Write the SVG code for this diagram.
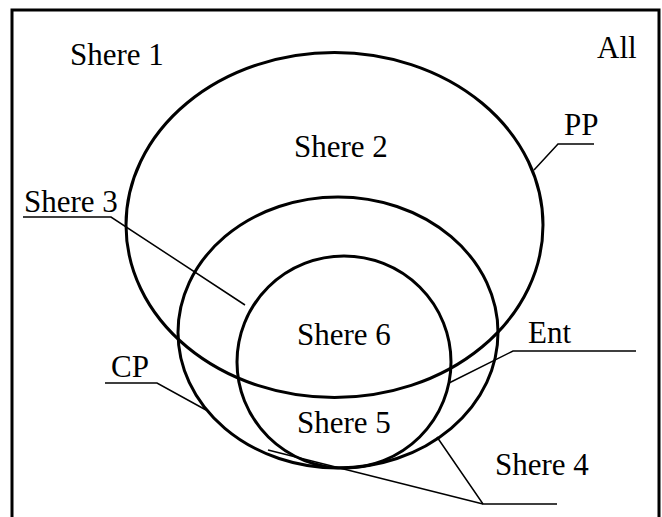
<svg xmlns="http://www.w3.org/2000/svg" width="662" height="517" viewBox="0 0 662 517">
<style>
.sh{fill:none;stroke:#000;stroke-width:3}
.ld{fill:none;stroke:#000;stroke-width:1.5}
.t{font-family:'Liberation Serif','Times New Roman',serif;font-size:31px;fill:#000}
</style>
<rect width="662" height="517" fill="#fff"/>
<path id="frame" class="sh" d="M12,517 V10 H659 V517"/>
<g id="pp"><ellipse class="sh" cx="334.5" cy="225" rx="208.5" ry="172.5"/></g>
<g id="cp"><ellipse class="sh" cx="338" cy="332.5" rx="160" ry="135.5"/></g>
<g id="inner"><ellipse class="sh" cx="344" cy="362" rx="107" ry="106"/></g>
<g id="labels">
<text class="t" x="70" y="65">Shere 1</text>
<text class="t" x="597" y="58">All</text>
<text class="t" x="294" y="157">Shere 2</text>
<text class="t" x="564" y="135">PP</text>
<text class="t" x="24" y="212">Shere 3</text>
<text class="t" x="297" y="345">Shere 6</text>
<text class="t" x="528" y="343">Ent</text>
<text class="t" x="111" y="377">CP</text>
<text class="t" x="297" y="433">Shere 5</text>
<text class="t" x="495" y="475">Shere 4</text>
</g>
<g id="connectors">
<polyline class="ld" points="594,144 558,144 534,170"/>
<polyline class="ld" points="23,217 111,217 245,305"/>
<polyline class="ld" points="636,351 513,351 449,383"/>
<polyline class="ld" points="105,383 157,383 206,410"/>
<polyline class="ld" points="557,504 483,504 437,437"/>
<polyline class="ld" points="483,504 268,450"/>
</g>
</svg>
